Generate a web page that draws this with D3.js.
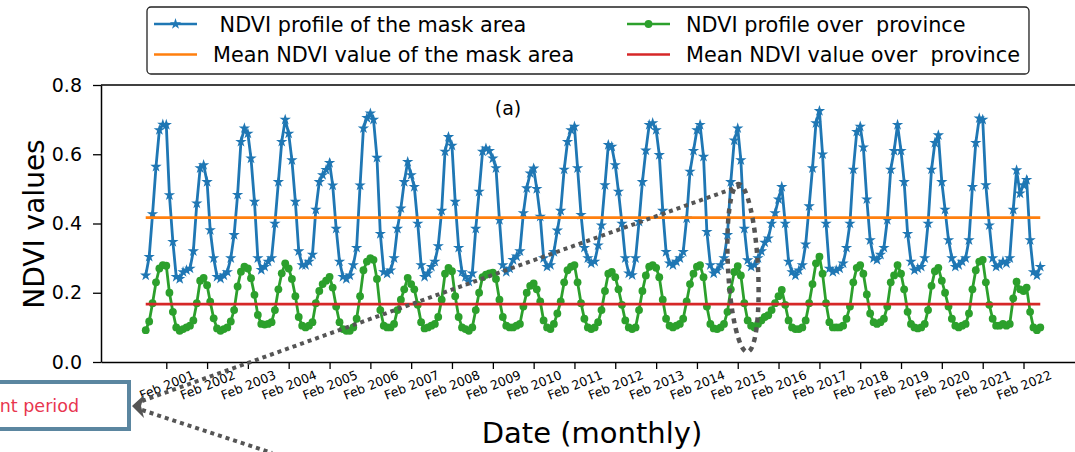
<!DOCTYPE html>
<html>
<head>
<meta charset="utf-8">
<script src="https://cdn.jsdelivr.net/npm/d3@7"></script>
<style>
  html, body { margin: 0; padding: 0; background: #fff; overflow: hidden; }
  svg { display: block; font-family: "DejaVu Sans", sans-serif; }
</style>
</head>
<body>
<svg id="chart" width="1075" height="452"></svg>
<script>
// monthly series start in Aug 2000, one value per month (season rows Aug..Jul)
const startMonth = new Date(2000, 7, 1);

const ndviMask = [
  0.25, 0.304, 0.427, 0.564, 0.67, 0.686, 0.685, 0.482, 0.347, 0.246, 0.24, 0.26,   // 2001
  0.265, 0.27, 0.32, 0.458, 0.56, 0.569, 0.52, 0.381, 0.30, 0.246, 0.241, 0.25,     // 2002
  0.26, 0.30, 0.367, 0.483, 0.636, 0.675, 0.66, 0.588, 0.463, 0.30, 0.266, 0.275,   // 2003
  0.29, 0.30, 0.40, 0.52, 0.636, 0.70, 0.66, 0.583, 0.463, 0.32, 0.28, 0.28,        // 2004
  0.29, 0.31, 0.44, 0.52, 0.54, 0.555, 0.575, 0.51, 0.385, 0.29, 0.246, 0.24,       // 2005
  0.25, 0.28, 0.33, 0.51, 0.675, 0.705, 0.718, 0.70, 0.59, 0.37, 0.26, 0.255,       // 2006
  0.265, 0.30, 0.385, 0.444, 0.52, 0.578, 0.54, 0.506, 0.40, 0.28, 0.246, 0.256,   // 2007
  0.275, 0.29, 0.335, 0.437, 0.608, 0.65, 0.625, 0.463, 0.33, 0.26, 0.246, 0.232,  // 2008
  0.256, 0.385, 0.492, 0.608, 0.617, 0.61, 0.588, 0.56, 0.41, 0.28, 0.26, 0.27,    // 2009
  0.295, 0.305, 0.32, 0.43, 0.502, 0.545, 0.559, 0.50, 0.42, 0.30, 0.275, 0.28,    // 2010
  0.318, 0.38, 0.437, 0.556, 0.636, 0.67, 0.68, 0.56, 0.425, 0.33, 0.30, 0.285,    // 2011
  0.29, 0.337, 0.395, 0.511, 0.627, 0.622, 0.569, 0.492, 0.40, 0.30, 0.256, 0.251, // 2012
  0.30, 0.405, 0.52, 0.611, 0.685, 0.69, 0.67, 0.598, 0.437, 0.318, 0.285, 0.28,   // 2013
  0.29, 0.30, 0.318, 0.415, 0.55, 0.61, 0.67, 0.685, 0.593, 0.376, 0.28, 0.256,    // 2014
  0.265, 0.28, 0.30, 0.367, 0.52, 0.64, 0.675, 0.583, 0.385, 0.294, 0.275, 0.28,   // 2015
  0.30, 0.32, 0.345, 0.357, 0.40, 0.43, 0.47, 0.506, 0.40, 0.29, 0.26, 0.25,       // 2016
  0.265, 0.28, 0.34, 0.45, 0.56, 0.69, 0.725, 0.60, 0.40, 0.27, 0.26, 0.265,       // 2017
  0.27, 0.285, 0.33, 0.40, 0.556, 0.665, 0.68, 0.62, 0.47, 0.352, 0.30, 0.295,     // 2018
  0.31, 0.33, 0.41, 0.556, 0.61, 0.685, 0.61, 0.52, 0.37, 0.29, 0.265, 0.27,       // 2019
  0.275, 0.30, 0.40, 0.556, 0.633, 0.655, 0.52, 0.44, 0.352, 0.30, 0.275, 0.28,    // 2020
  0.29, 0.30, 0.352, 0.506, 0.633, 0.704, 0.70, 0.511, 0.395, 0.30, 0.275, 0.28,   // 2021
  0.29, 0.285, 0.30, 0.44, 0.554, 0.487, 0.511, 0.526, 0.352, 0.26, 0.25, 0.275    // 2022
];

const ndviProvince = [
  0.092, 0.117, 0.17, 0.23, 0.27, 0.28, 0.278, 0.20, 0.145, 0.10, 0.09, 0.095,     // 2001
  0.10, 0.105, 0.12, 0.17, 0.235, 0.243, 0.222, 0.174, 0.126, 0.097, 0.09, 0.095,  // 2002
  0.10, 0.117, 0.15, 0.218, 0.261, 0.275, 0.27, 0.242, 0.194, 0.136, 0.11, 0.108,  // 2003
  0.11, 0.115, 0.15, 0.21, 0.256, 0.285, 0.27, 0.24, 0.19, 0.13, 0.105, 0.10,      // 2004
  0.105, 0.115, 0.17, 0.205, 0.225, 0.235, 0.246, 0.215, 0.16, 0.115, 0.095, 0.09, // 2005
  0.09, 0.10, 0.125, 0.19, 0.265, 0.29, 0.30, 0.295, 0.24, 0.15, 0.105, 0.10,      // 2006
  0.10, 0.11, 0.15, 0.18, 0.21, 0.243, 0.225, 0.21, 0.165, 0.115, 0.097, 0.10,     // 2007
  0.105, 0.11, 0.13, 0.18, 0.255, 0.272, 0.262, 0.19, 0.13, 0.10, 0.095, 0.09,     // 2008
  0.10, 0.15, 0.20, 0.245, 0.252, 0.256, 0.258, 0.24, 0.18, 0.13, 0.105, 0.10,     // 2009
  0.10, 0.105, 0.11, 0.16, 0.20, 0.22, 0.227, 0.21, 0.175, 0.12, 0.10, 0.095,      // 2010
  0.11, 0.14, 0.175, 0.23, 0.265, 0.275, 0.28, 0.23, 0.17, 0.125, 0.10, 0.095,     // 2011
  0.10, 0.115, 0.15, 0.205, 0.255, 0.26, 0.245, 0.21, 0.165, 0.12, 0.10, 0.095,    // 2012
  0.10, 0.15, 0.205, 0.25, 0.275, 0.28, 0.272, 0.245, 0.18, 0.125, 0.105, 0.10,   // 2013
  0.105, 0.11, 0.125, 0.175, 0.225, 0.255, 0.275, 0.28, 0.245, 0.16, 0.11, 0.097, // 2014
  0.095, 0.10, 0.11, 0.145, 0.21, 0.26, 0.277, 0.25, 0.17, 0.12, 0.105, 0.10,      // 2015
  0.11, 0.12, 0.13, 0.135, 0.15, 0.17, 0.19, 0.208, 0.165, 0.12, 0.10, 0.095,      // 2016
  0.095, 0.10, 0.12, 0.17, 0.225, 0.285, 0.304, 0.255, 0.17, 0.115, 0.10, 0.10,    // 2017
  0.10, 0.105, 0.125, 0.16, 0.23, 0.272, 0.28, 0.255, 0.195, 0.14, 0.115, 0.11,    // 2018
  0.115, 0.125, 0.16, 0.23, 0.25, 0.28, 0.255, 0.21, 0.145, 0.11, 0.10, 0.097,     // 2019
  0.10, 0.11, 0.15, 0.22, 0.262, 0.272, 0.235, 0.20, 0.16, 0.125, 0.105, 0.10,     // 2020
  0.105, 0.11, 0.14, 0.21, 0.265, 0.29, 0.295, 0.23, 0.165, 0.125, 0.105, 0.105,   // 2021
  0.11, 0.105, 0.11, 0.184, 0.232, 0.21, 0.205, 0.215, 0.145, 0.10, 0.092, 0.10    // 2022
];

const meanMask = 0.417;
const meanProvince = 0.167;

const tickYears = [2001, 2002, 2003, 2004, 2005, 2006, 2007, 2008, 2009, 2010, 2011,
                   2012, 2013, 2014, 2015, 2016, 2017, 2018, 2019, 2020, 2021, 2022];
const yTicks = [0.0, 0.2, 0.4, 0.6, 0.8];

const legendItems = [
  {label: " NDVI profile of the mask area", color: "#1f77b4", marker: "star", col: 0, row: 0},
  {label: "Mean NDVI value of the mask area", color: "#ff7f0e", marker: null, col: 0, row: 1},
  {label: "NDVI profile over  province", color: "#2ca02c", marker: "circle", col: 1, row: 0},
  {label: "Mean NDVI value over  province", color: "#d62728", marker: null, col: 1, row: 1}
];

// ---- layout
const plot = {left: 101, right: 1085, top: 85, bottom: 362};
const svg = d3.select("#chart");

const dates = ndviMask.map((_, i) => d3.timeMonth.offset(startMonth, i));
const t0 = dates[0], t1 = dates[dates.length - 1];
const margin = (t1 - t0) * 0.05; // matplotlib default x margin
const x = d3.scaleTime()
  .domain([new Date(+t0 - margin), new Date(+t1 + margin)])
  .range([plot.left, plot.right]);
const y = d3.scaleLinear().domain([0, 0.8]).range([plot.bottom, plot.top]);

const starSym = d3.symbol().type(d3.symbolStar).size(40);
const circSym = d3.symbol().type(d3.symbolCircle).size(48);

// ---- axes
const xAxis = svg.append("g")
  .attr("transform", `translate(0,${plot.bottom})`)
  .call(d3.axisBottom(x)
    .tickValues(tickYears.map(yr => new Date(yr, 1, 1)))
    .tickFormat(d3.timeFormat("Feb %Y"))
    .tickSize(7)
    .tickSizeOuter(0));
xAxis.select(".domain").attr("stroke", "#000").attr("stroke-width", 1.5);
xAxis.selectAll(".tick line").attr("stroke", "#000").attr("stroke-width", 1.3);
xAxis.selectAll(".tick text")
  .attr("y", 0).attr("dy", null)
  .attr("text-anchor", "middle")
  .attr("dominant-baseline", "central")
  .attr("transform", "translate(0,23) rotate(-22)")
  .attr("font-size", 12.5)
  .attr("font-family", "DejaVu Sans")
  .attr("fill", "#000");

const yAxis = svg.append("g")
  .attr("transform", `translate(${plot.left},0)`)
  .call(d3.axisLeft(y)
    .tickValues(yTicks)
    .tickFormat(d3.format(".1f"))
    .tickSize(8)
    .tickPadding(11)
    .tickSizeOuter(0));
yAxis.select(".domain").attr("stroke", "#000").attr("stroke-width", 1.5);
yAxis.selectAll(".tick line").attr("stroke", "#000").attr("stroke-width", 1.3);
yAxis.selectAll(".tick text")
  .attr("font-size", 19)
  .attr("font-family", "DejaVu Sans")
  .attr("fill", "#000");

// top spine
svg.append("line")
  .attr("x1", plot.left).attr("x2", plot.right)
  .attr("y1", plot.top).attr("y2", plot.top)
  .attr("stroke", "#000").attr("stroke-width", 1.5);

// axis titles
svg.append("text")
  .attr("transform", "translate(34,224) rotate(-90)")
  .attr("text-anchor", "middle")
  .attr("dominant-baseline", "central")
  .attr("font-size", 28)
  .text("NDVI values");

svg.append("text")
  .attr("x", 592).attr("y", 443)
  .attr("text-anchor", "middle")
  .attr("font-size", 29)
  .text("Date (monthly)");

svg.append("text")
  .attr("x", 508).attr("y", 115)
  .attr("text-anchor", "middle")
  .attr("font-size", 19)
  .text("(a)");

// ---- series
const line = d3.line().x((d, i) => x(dates[i])).y(d => y(d));

svg.append("path")
  .datum(ndviMask)
  .attr("d", line)
  .attr("fill", "none")
  .attr("stroke", "#1f77b4")
  .attr("stroke-width", 2.8);
svg.append("g").selectAll("path")
  .data(ndviMask)
  .join("path")
  .attr("transform", (d, i) => `translate(${x(dates[i])},${y(d)})`)
  .attr("d", starSym)
  .attr("fill", "#1f77b4");

svg.append("line")
  .attr("x1", x(t0)).attr("x2", x(t1))
  .attr("y1", y(meanMask)).attr("y2", y(meanMask))
  .attr("stroke", "#ff7f0e").attr("stroke-width", 2.8);

svg.append("path")
  .datum(ndviProvince)
  .attr("d", line)
  .attr("fill", "none")
  .attr("stroke", "#2ca02c")
  .attr("stroke-width", 2.8);
svg.append("g").selectAll("path")
  .data(ndviProvince)
  .join("path")
  .attr("transform", (d, i) => `translate(${x(dates[i])},${y(d)})`)
  .attr("d", circSym)
  .attr("fill", "#2ca02c");

svg.append("line")
  .attr("x1", x(t0)).attr("x2", x(t1))
  .attr("y1", y(meanProvince)).attr("y2", y(meanProvince))
  .attr("stroke", "#d62728").attr("stroke-width", 2.8);

// ---- legend
const legend = svg.append("g");
const legBox = legend.append("rect")
  .attr("x", 147).attr("y", 7).attr("height", 67).attr("rx", 4)
  .attr("fill", "#fff").attr("stroke", "#222").attr("stroke-width", 1.3);

const colX = [154, 627];
const rowY = [24, 54.5];
let textEnd = 0;
legendItems.forEach(it => {
  const hx = colX[it.col], hy = rowY[it.row];
  legend.append("line")
    .attr("x1", hx).attr("x2", hx + 43)
    .attr("y1", hy).attr("y2", hy)
    .attr("stroke", it.color).attr("stroke-width", 2.6);
  if (it.marker) {
    legend.append("path")
      .attr("transform", `translate(${hx + 21.5},${hy})`)
      .attr("d", it.marker === "star" ? starSym : circSym)
      .attr("fill", it.color);
  }
  const t = legend.append("text")
    .attr("x", hx + 59).attr("y", hy + 7.5)
    .attr("font-size", 20.8)
    .style("white-space", "pre")
    .text(it.label);
  textEnd = Math.max(textEnd, hx + 59 + t.node().getComputedTextLength());
});
legBox.attr("width", textEnd + 9 - 147);

// ---- annotations (dotted arrows, ellipse, cropped label box)
const annColor = "#555";
const ann = svg.append("g");
ann.append("line")
  .attr("x1", 142).attr("y1", 401).attr("x2", 743).attr("y2", 185)
  .attr("stroke", annColor).attr("stroke-width", 4).attr("stroke-dasharray", "4 4");
ann.append("line")
  .attr("x1", 142).attr("y1", 410).attr("x2", 272).attr("y2", 453)
  .attr("stroke", annColor).attr("stroke-width", 4).attr("stroke-dasharray", "4 4");
ann.append("ellipse")
  .attr("cx", 743).attr("cy", 268).attr("rx", 15).attr("ry", 84)
  .attr("transform", "rotate(-3,743,268)")
  .attr("fill", "none")
  .attr("stroke", annColor).attr("stroke-width", 4.5).attr("stroke-dasharray", "5 5");
ann.append("path")
  .attr("d", "M132,406 L144,395 L141,406 L144,418 Z")
  .attr("fill", annColor);

ann.append("rect")
  .attr("x", -10).attr("y", 382).attr("width", 139).attr("height", 47)
  .attr("fill", "#fff").attr("stroke", "#5b86a0").attr("stroke-width", 4);
ann.append("text")
  .attr("x", 79).attr("y", 412)
  .attr("text-anchor", "end")
  .attr("font-size", 17.5)
  .attr("fill", "#e8364f")
  .text("nt period");
</script>
</body>
</html>
